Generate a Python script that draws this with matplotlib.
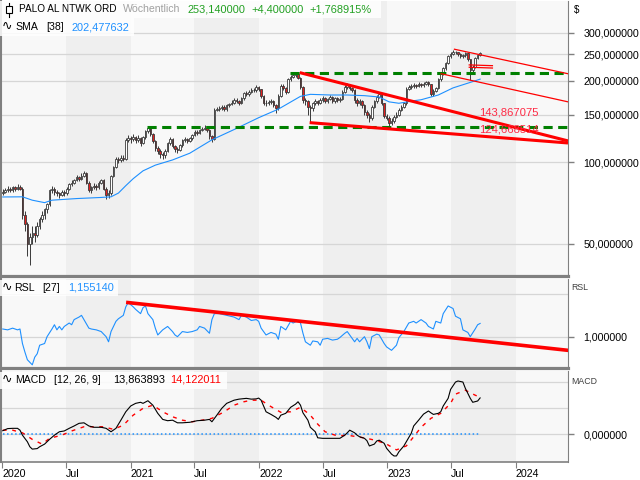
import numpy as np
import pandas as pd
import matplotlib
matplotlib.use("Agg")
import matplotlib.pyplot as plt
import matplotlib.dates as mdates
from matplotlib.patches import Rectangle
from matplotlib.lines import Line2D
from matplotlib.ticker import FixedLocator, FuncFormatter, NullLocator

FONT = ["Liberation Sans", "DejaVu Sans"]
plt.rcParams["font.family"] = FONT

# Wochenkerzen (Schlusskurse), ab 03.01.2020
closes = [
    78, 79, 80, 79, 81, 80, 81, 80, 64, 59,
    50, 53, 55, 54, 58, 62, 64, 67, 70, 79,
    80, 78, 77, 76, 78, 77, 80, 83, 84, 86,
    88, 87, 89, 91, 84, 79, 81, 82, 81, 84,
    86, 80, 76, 77, 89, 96, 103, 102, 104, 103,
    121, 123, 122, 124, 121, 123, 118, 124, 130, 134,
    127, 120, 113, 110, 107, 106, 110, 118, 122, 115,
    112, 111, 116, 121, 122, 120, 123, 126, 129, 128,
    131, 133, 134, 132, 125, 122, 156, 157, 158, 160,
    157, 162, 164, 166, 170, 168, 166, 172, 180, 178,
    182, 185, 184, 189, 186, 176, 166, 165, 167, 168,
    163, 158, 176, 191, 188, 181, 203, 207, 210, 212,
    205, 190, 170, 168, 160, 158, 165, 168, 166, 170,
    172, 168, 171, 174, 168, 172, 170, 171, 182, 190,
    193, 188, 185, 170, 165, 168, 162, 153, 150, 145,
    160, 168, 174, 178, 165, 148, 146, 140, 142, 147,
    150, 156, 160, 165, 186, 189, 191, 193, 191, 194,
    192, 195, 197, 194, 179, 183, 188, 202, 212, 222,
    232, 246, 250, 255, 254, 250, 246, 248, 252, 240,
    218, 225, 243, 248.74, 253.14,
]
highs = [
    79.5, 80.5, 82, 81, 82, 82, 83, 82.5, 81, 66,
    60, 55, 58, 58, 60, 63, 66, 68, 71, 80,
    82, 81, 79, 78, 79, 79, 81, 84, 86, 87,
    90, 89, 91, 93, 92, 85, 82, 84, 83, 85,
    87, 87, 81, 79, 90, 97, 105, 105, 106, 106,
    123, 126, 125, 127, 125, 126, 124, 125, 132, 136,
    135, 128, 121, 115, 112, 109, 112, 119, 124, 123,
    116, 114, 117, 122, 124, 123, 124, 127, 131, 131,
    133, 135, 137, 135, 133, 126, 158, 160, 161, 163,
    162, 164, 166, 169, 172, 172, 170, 174, 182, 183,
    185, 188, 188, 192, 191, 187, 177, 169, 170, 171,
    170, 164, 178, 194, 194, 190, 205, 210, 213, 215,
    214, 206, 191, 173, 170, 163, 167, 171, 170, 173,
    175, 174, 173, 177, 175, 174, 174, 174, 184, 192,
    196, 195, 190, 186, 172, 171, 170, 164, 156, 152,
    162, 170, 177, 181, 179, 166, 151, 148, 145, 149,
    153, 158, 162, 167, 189, 192, 194, 196, 195, 197,
    196, 198, 200, 199, 195, 186, 190, 204, 215, 225,
    235, 249, 254, 259, 258, 256, 252, 251, 255, 253,
    241, 228, 245, 251, 256,
]
lows = [
    76, 77, 78, 77.5, 78, 78.5, 79, 79, 62, 56,
    45, 42, 50, 51, 53, 57, 60, 62, 65, 69,
    77, 76, 75, 74, 75, 75, 76, 79, 82, 83,
    85, 85, 86, 88, 83, 78, 77, 80, 79, 80,
    83, 79, 73, 74, 76, 88, 95, 99, 100, 101,
    102, 119, 118, 120, 118, 119, 115, 117, 122, 128,
    125, 118, 110, 107, 104, 103, 104, 109, 116, 113,
    109, 108, 110, 114, 119, 118, 119, 121, 125, 126,
    127, 130, 131, 129, 122, 119, 121, 154, 155, 156,
    154, 155, 160, 162, 164, 165, 162, 164, 170, 175,
    176, 180, 181, 182, 183, 173, 162, 161, 162, 164,
    160, 152, 156, 174, 185, 178, 180, 200, 204, 206,
    202, 187, 166, 162, 150, 141, 155, 162, 162, 164,
    167, 165, 165, 169, 165, 166, 167, 167, 169, 180,
    187, 185, 181, 166, 161, 162, 158, 150, 145, 141,
    143, 158, 166, 172, 162, 145, 143, 135, 137, 140,
    145, 148, 154, 158, 163, 184, 186, 188, 188, 189,
    189, 190, 193, 191, 176, 176, 181, 186, 200, 210,
    219, 230, 243, 248, 250, 246, 242, 243, 245, 236,
    201, 212, 223, 240, 246,
]
first_open = 77

# SMA [38] (Wochenindex, Wert)
sma_week = [0, 8, 12, 17, 20, 30, 40, 44, 47, 50, 53, 57, 62, 69, 76, 85, 94,
            104, 112, 121, 125, 133, 140, 147, 153, 157, 161, 167, 170, 177,
            183, 190, 194]
sma_val = [74.5, 74.6, 72.5, 71.0, 72.5, 73.5, 74.2, 74.6, 77, 82, 87, 93,
           97.6, 102, 108, 121, 132, 146, 157, 175, 178, 177, 177, 176, 174,
           167, 165, 168.6, 170, 177, 188, 197, 202.48]

# RSL [27]
rsl_week = [0, 2, 4, 6, 7, 8, 9, 10, 12, 13, 14, 15, 17, 18, 20, 21, 22, 23,
            24, 25, 27, 28, 29, 31, 32, 33, 35, 36, 38, 40, 42, 43, 44, 46,
            47, 49, 50, 51, 53, 54, 56, 57, 58, 59, 61, 62, 63, 65, 67, 69,
            70, 71, 73, 75, 77, 79, 80, 82, 84, 85, 86, 88, 91, 94, 96, 97,
            99, 101, 103, 104, 105, 107, 109, 111, 112, 113, 115, 117, 118,
            120, 121, 122, 123, 125, 126, 128, 129, 130, 132, 134, 136, 137,
            139, 140, 141, 143, 144, 145, 147, 148, 149, 150, 152, 153, 155,
            156, 158, 160, 161, 163, 165, 167, 168, 170, 172, 173, 175, 176,
            178, 179, 181, 183, 184, 186, 187, 189, 190, 192, 193, 194]
rsl_val = [1.09, 1.08, 1.10, 1.08, 1.09, 0.92, 0.82, 0.73, 0.67, 0.76, 0.80,
           0.90, 0.92, 1.0, 1.09, 1.14, 1.08, 1.12, 1.08, 1.12, 1.16, 1.14,
           1.20, 1.23, 1.25, 1.20, 1.10, 1.09, 1.08, 1.06, 1.0, 0.94, 1.06,
           1.18, 1.21, 1.25, 1.35, 1.40, 1.35, 1.32, 1.27, 1.34, 1.36, 1.27,
           1.20, 1.10, 1.02, 1.08, 1.12, 1.06, 1.02, 1.0, 1.06, 1.05, 1.06,
           1.08, 1.12, 1.10, 1.04, 1.20, 1.27, 1.27, 1.25, 1.23, 1.20, 1.25,
           1.23, 1.19, 1.20, 1.18, 1.10, 1.02, 1.05, 1.03, 0.97, 1.12, 1.08,
           1.18, 1.16, 1.19, 1.16, 1.04, 0.94, 0.90, 0.95, 0.94, 0.90, 0.97,
           0.98, 0.96, 0.97, 0.99, 1.04, 1.06, 1.02, 0.94, 0.98, 0.94, 1.0,
           0.94, 0.86, 1.0, 1.03, 1.02, 0.92, 0.88, 0.84, 0.90, 0.99, 1.06,
           1.16, 1.18, 1.16, 1.20, 1.16, 1.12, 1.09, 1.18, 1.16, 1.27, 1.36,
           1.33, 1.24, 1.21, 1.08, 1.05, 1.0, 1.09, 1.14, 1.155]

# MACD [12, 26, 9]
macd_week = [0, 2, 4, 6, 7, 8, 10, 11, 12, 14, 15, 17, 19, 21, 23, 25, 27, 29,
             31, 33, 35, 37, 40, 42, 44, 46, 48, 50, 52, 54, 56, 57, 59, 61,
             63, 65, 67, 69, 71, 73, 76, 79, 82, 84, 85, 87, 89, 91, 94, 96,
             99, 101, 103, 104, 105, 107, 109, 111, 112, 113, 115, 117, 119,
             120, 121, 122, 124, 125, 127, 128, 130, 133, 135, 137, 139, 140,
             141, 143, 144, 145, 147, 148, 149, 151, 152, 153, 155, 156, 158,
             159, 160, 161, 163, 164, 166, 167, 169, 171, 173, 174, 175, 177,
             178, 179, 181, 182, 184, 185, 187, 188, 190, 191, 193, 194]
macd_val = [1.4, 2.2, 2.3, 2.3, 1.6, -0.3, -2.8, -4.7, -5.6, -5.4, -4.7, -3.7,
            -1.9, -0.3, 1.0, 1.3, 2.3, 3.2, 4.2, 4.4, 3.2, 2.7, 2.7, 2.3, 1.0,
            2.3, 5.4, 8.6, 10.8, 11.8, 12.2, 11.8, 12.8, 11.1, 8.0, 5.7, 5.2,
            5.4, 4.4, 4.4, 4.6, 5.2, 5.4, 5.7, 4.8, 7.3, 9.9, 11.8, 13.0,
            13.4, 13.7, 13.4, 13.5, 13.8, 13.0, 8.6, 7.6, 6.5, 5.7, 7.3, 8.0,
            10.3, 11.5, 12.4, 11.1, 8.2, 5.4, 2.7, 1.0, -1.3, -1.5, -1.5,
            -1.5, -1.5, -0.3, 0.6, 1.6, 0.6, -0.3, -0.9, -1.5, -2.4, -4.4,
            -3.7, -2.5, -2.2, -3.4, -5.3, -7.5, -8.2, -8.2, -6.6, -4.4, -2.8,
            0.4, 3.2, 5.4, 7.7, 8.9, 8.2, 7.6, 8.0, 8.6, 10.8, 13.7, 17.1,
            19.9, 20.3, 19.9, 17.5, 13.7, 12.2, 12.7, 13.86]
sig_week = [0, 4, 8, 12, 16, 19, 24, 28, 33, 37, 41, 45, 49, 53, 57, 61, 65,
            69, 73, 77, 81, 85, 90, 94, 98, 101, 105, 108, 113, 117, 121, 125,
            128, 131, 136, 140, 144, 148, 152, 156, 160, 164, 167, 170, 174,
            178, 182, 184, 188, 192, 194]
sig_val = [1.6, 1.6, 0.6, -1.9, -3.7, -1.5, -0.3, 1.3, 2.9, 2.9, 2.9, 1.9, 3.5,
           7.3, 9.9, 11.1, 8.6, 6.7, 5.4, 4.8, 5.4, 6.1, 8.6, 11.1, 12.4,
           13.0, 13.0, 11.1, 8.4, 8.6, 10.3, 7.3, 3.9, 1.0, -0.6, -0.3, -0.9,
           -1.5, -2.4, -3.7, -5.9, -4.4, -0.9, 2.7, 6.1, 8.0, 11.8, 15.3, 16.8,
           14.9, 14.12]

# Zeichnungen im Kurschart
x_left, x_right = "2019-12-29", "2024-05-29"
level_start = ["2021-02-16", "2022-03-29"]
level_price = [135.3, 213.5]
thick_lines = [(["2022-04-27", "2024-05-29"], [214, 119.9]),
               (["2022-05-25", "2024-05-29"], [140, 117.8])]
thin_lines = [(["2023-07-11", "2024-05-29"], [261, 212]),
              (["2023-06-03", "2024-05-29"], [212, 167]),
              (["2023-08-22", "2023-10-27"], [228.5, 227]),
              (["2023-08-22", "2023-10-27"], [224, 222.5])]
value_labels = ["143,867075", "124,668514"]
value_label_price = [152.7, 131.6]
rsl_trend = (["2020-12-24", "2024-05-29"], [1.40, 0.84])

price_ticks = [50, 100, 150, 200, 250, 300]
x_ticks = ["2020-01-01", "2020-07-01", "2021-01-01", "2021-07-01", "2022-01-01",
           "2022-07-01", "2023-01-01", "2023-07-01", "2024-01-01"]
x_tick_labels = ["2020", "Jul", "2021", "Jul", "2022", "Jul", "2023", "Jul", "2024"]


def dn(d):
    return mdates.date2num(pd.to_datetime(d))


def de(v, pos=None):
    return f"{v:.6f}".replace(".", ",")


def box(x0, y0, x1, y1):
    return [x0 / 640, 1 - y1 / 480, (x1 - x0) / 640, (y1 - y0) / 480]


weeks = pd.date_range("2020-01-03", periods=len(closes), freq="7D")
xw = mdates.date2num(weeks)
c = np.array(closes, dtype=float)
o = np.array([first_open] + closes[:-1], dtype=float)

fig = plt.figure(figsize=(6.4, 4.8), dpi=100)
ax_p = fig.add_axes(box(1, 1, 568, 276))
ax_r = fig.add_axes(box(1, 279, 568, 368))
ax_m = fig.add_axes(box(1, 371, 568, 462))

GRID = "#d6d6d6"
FRAME = "#808080"

for ax in (ax_p, ax_r, ax_m):
    ax.set_facecolor("#f8f8f8")
    ax.set_xlim(dn(x_left), dn(x_right))
    for yr in range(2020, 2024):
        ax.axvspan(dn(f"{yr}-07-01"), dn(f"{yr + 1}-01-01"), color="#efefef", lw=0, zorder=0)
    ax.yaxis.tick_right()
    ax.tick_params(axis="y", direction="out", length=4, width=1, color=FRAME,
                   pad=7, labelsize=7.7, labelcolor="black")
    ax.spines["left"].set_color(FRAME)
    ax.spines["left"].set_linewidth(1.5)
    ax.spines["right"].set_color(FRAME)
    ax.spines["top"].set_visible(False)
    ax.spines["bottom"].set_color(FRAME)
    ax.spines["bottom"].set_linewidth(2.3)
    ax.yaxis.set_major_formatter(FuncFormatter(de))

ax_p.tick_params(axis="x", bottom=False, labelbottom=False)
ax_r.tick_params(axis="x", bottom=False, labelbottom=False)
ax_m.spines["bottom"].set_linewidth(1.2)

# Kurschart
ax_p.set_yscale("log")
ax_p.set_ylim(38.1, 393)
ax_p.yaxis.set_major_locator(FixedLocator(price_ticks))
ax_p.yaxis.set_minor_locator(NullLocator())
ax_p.yaxis.set_major_formatter(FuncFormatter(de))
for t in price_ticks:
    ax_p.axhline(t, color=GRID, lw=0.9, zorder=1)

top = np.maximum(o, c)
bot = np.minimum(o, c)
ax_p.vlines(xw, lows, highs, color="#3a3a3a", lw=0.7, zorder=2)
ax_p.bar(xw, top - bot, bottom=bot, width=4.4,
         color=np.where(c >= o, "white", "#e02020"),
         edgecolor="#3a3a3a", linewidth=0.6, zorder=3)
ax_p.plot(xw[sma_week], sma_val, color="#1e90ff", lw=0.8, zorder=4)

for d, v in zip(level_start, level_price):
    ax_p.plot([dn(d), dn(x_right)], [v, v], color="#008000", lw=2.2,
              dashes=(3, 1.8), zorder=5)
for d, v in thick_lines:
    ax_p.plot(dn(d), v, color="red", lw=2.2, zorder=6, solid_capstyle="butt")
for d, v in thin_lines:
    ax_p.plot(dn(d), v, color="red", lw=0.9, zorder=6)
for s, v in zip(value_labels, value_label_price):
    ax_p.text(dn("2023-09-20"), v, s, color="#ff2a45", fontsize=8.1,
              va="center", ha="left", zorder=7)

# RSL
ax_r.set_ylim(0.633, 1.676)
ax_r.yaxis.set_major_locator(FixedLocator([1.0]))
for t in (1.0, 1.5):
    ax_r.axhline(t, color=GRID, lw=0.9, zorder=1)
ax_r.plot(xw[rsl_week], rsl_val, color="#1e90ff", lw=0.8, zorder=3)
ax_r.plot(dn(rsl_trend[0]), rsl_trend[1], color="red", lw=2.6, zorder=4)

# MACD
ax_m.set_ylim(-10.5, 24.1)
ax_m.yaxis.set_major_locator(FixedLocator([0.0]))
for t in (0, 10, 20):
    ax_m.axhline(t, color=GRID, lw=0.9, zorder=1)
ax_m.plot([xw[0], xw[-1]], [0, 0], color="#1e90ff", lw=1.1, ls=":", zorder=2)
ax_m.plot(xw[sig_week], sig_val, color="red", lw=1.0, dashes=(2.8, 4), zorder=3)
ax_m.plot(xw[macd_week], macd_val, color="black", lw=0.8, zorder=4)

ax_m.set_xticks(dn(x_ticks))
ax_m.set_xticklabels(x_tick_labels, ha="left")
ax_m.tick_params(axis="x", direction="out", length=4, color=FRAME, pad=1,
                 labelsize=7.7)

# Legenden oben links
for x0, y0, x1, y1 in [(0, 1, 381, 18), (0, 18, 134, 36), (0, 280, 118, 296), (0, 372, 227, 389)]:
    fig.add_artist(Rectangle((x0 / 640, 1 - y1 / 480), (x1 - x0) / 640, (y1 - y0) / 480,
                             transform=fig.transFigure, facecolor="white", alpha=0.85,
                             edgecolor="none", zorder=5))


def t(x, y, s, color="black", size=7.9):
    fig.text(x / 640, 1 - y / 480, s, color=color, fontsize=size, va="center",
             ha="left", family=FONT, zorder=6)


fig.add_artist(Rectangle((6 / 640, 1 - 13 / 480), 6 / 640, 7 / 480, transform=fig.transFigure,
                         facecolor="white", edgecolor="black", lw=0.8, zorder=6))
fig.add_artist(Line2D([9 / 640, 9 / 640], [1 - 3 / 480, 1 - 6 / 480], transform=fig.transFigure,
                      color="black", lw=0.8, zorder=6))
fig.add_artist(Line2D([9 / 640, 9 / 640], [1 - 13 / 480, 1 - 17 / 480], transform=fig.transFigure,
                      color="black", lw=0.8, zorder=6))

GREEN = "#22a022"
BLUE = "#1e90ff"
t(19, 9.5, "PALO AL NTWK ORD", size=7.2)
t(123, 9.5, "Wöchentlich", color="#a0a0a0", size=7.6)
t(188, 9.5, "253,140000", color=GREEN)
t(251, 9.5, "+4,400000", color=GREEN)
t(309, 9.5, "+1,768915%", color=GREEN)

t(2, 27, "∿", size=9)
t(15, 27, "SMA", size=7.6)
t(46, 27, "[38]", size=7.6)
t(71, 27, "202,477632", color=BLUE)

t(2, 288, "∿", size=9)
t(14, 288, "RSL", size=7.6)
t(42, 288, "[27]", size=7.6)
t(68, 288, "1,155140", color=BLUE)

t(2, 380, "∿", size=9)
t(15, 380, "MACD", size=7.6)
t(54, 380, "[12, 26, 9]", size=7.6)
t(113, 380, "13,863893")
t(170, 380, "14,122011", color="red")

t(574, 10, "$", size=7)
t(571, 287, "RSL", color="#404040", size=6.3)
t(571, 381, "MACD", color="#404040", size=6.3)

fig.savefig("out.png", dpi=100)
